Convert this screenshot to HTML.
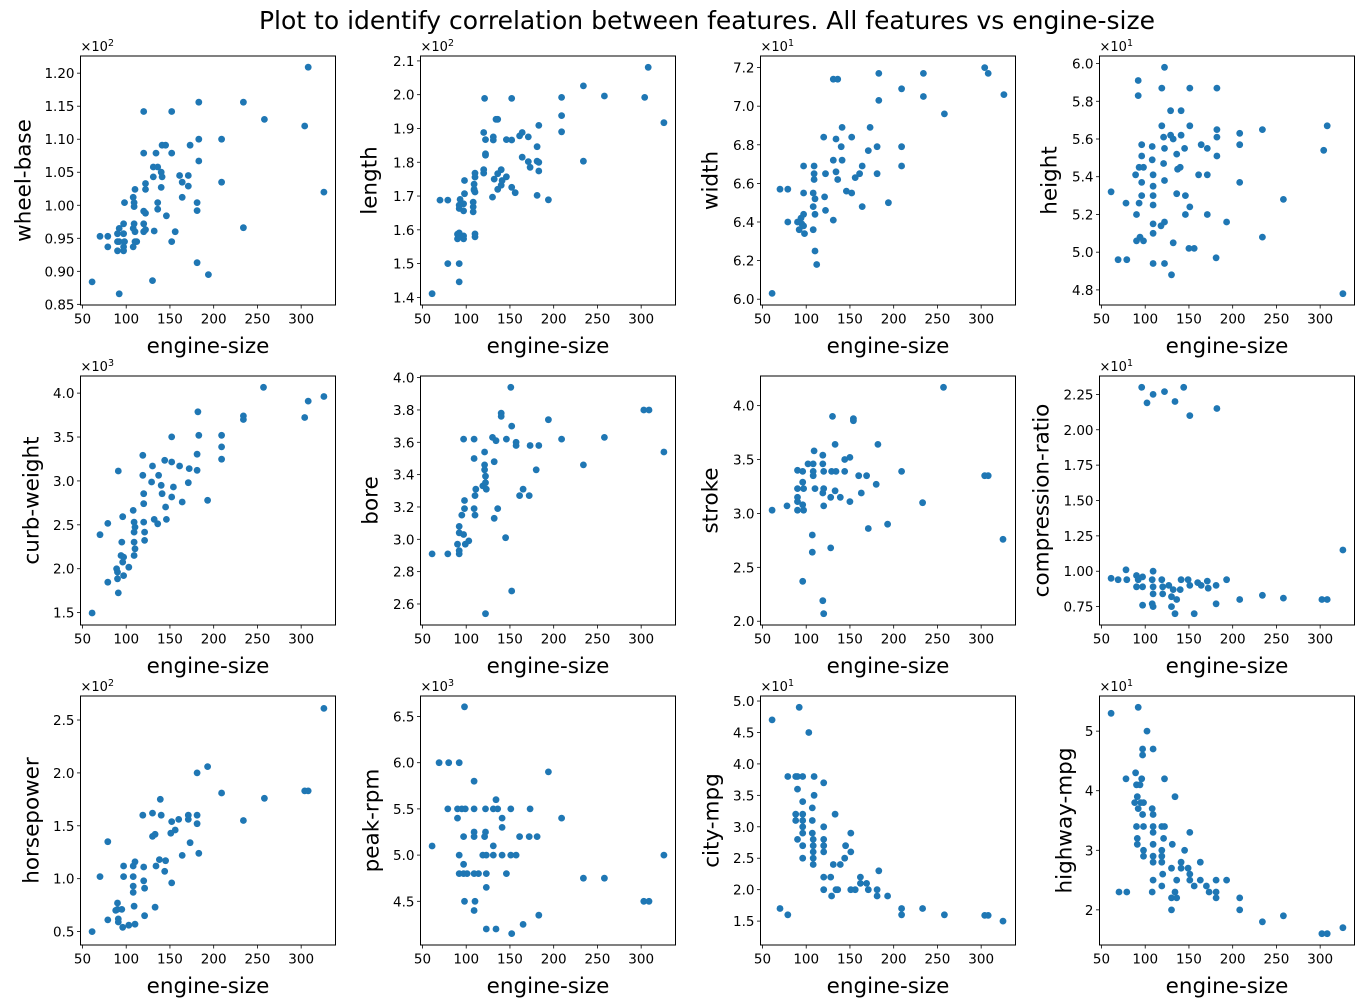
<!DOCTYPE html>
<html><head><meta charset="utf-8">
<style>
html,body{margin:0;padding:0;background:#fff;}
svg{display:block;font-family:"DejaVu Sans","Liberation Sans",sans-serif;}
</style></head>
<body>
<svg id="fig" width="1367" height="1006" viewBox="0 0 1367 1006" xmlns="http://www.w3.org/2000/svg">
<rect x="0" y="0" width="1367" height="1006" fill="#fff"/>
<text x="707" y="29" font-size="25" text-anchor="middle" fill="#000">Plot to identify correlation between features. All features vs engine-size</text>
</svg>
<script>
const xTicks = [50,100,150,200,250,300];
const xDomain = [47.75, 339.25];

const wheelBase = [[61,88.4],[70,95.3],[79,95.3],[79,93.7],[90,94.5],[90,93.1],[92,96.5],[92,94.5],[92,86.6],[97,93.7],[97,95.7],[97,97.2],[97,93.1],[98,94.5],[98,100.4],[90,95.7],[108,93.7],[108,101.2],[108,96.5],[109,97.2],[109,100.4],[109,99.8],[110,96.0],[110,102.4],[110,94.5],[112,94.5],[120,114.2],[120,107.9],[120,99.1],[120,97.2],[120,96.0],[122,103.3],[122,102.4],[122,98.8],[122,96.3],[130,88.6],[131,104.3],[131,105.8],[132,96.1],[134,107.9],[136,105.8],[136,100.4],[136,99.4],[140,105.0],[140,102.7],[141,104.3],[141,109.1],[145,109.1],[146,98.4],[152,114.2],[152,107.9],[152,94.5],[156,96.0],[161,104.5],[164,103.5],[164,101.2],[171,104.5],[171,102.9],[173,109.1],[181,100.4],[181,99.2],[181,91.3],[183,115.6],[183,110.0],[183,106.7],[194,89.5],[209,110.0],[209,103.5],[234,115.6],[234,96.6],[258,113.0],[304,112.0],[308,120.9],[326,102.0]];
const lengthData = [[61,141.1],[70,168.8],[79,168.8],[79,150],[92,150],[92,144.6],[90,157.3],[90,158.7],[92,157.9],[92,159.1],[97,157.3],[97,158.2],[97,165.6],[97,167.7],[92,166.3],[92,167.3],[98,170.7],[98,174.6],[93,169],[108,165.3],[108,166.8],[108,168.2],[109,171.7],[109,172.0],[109,173.5],[110,175.6],[110,176.8],[110,157.9],[110,158.8],[110,171.2],[120,176.8],[120,177.8],[120,188.8],[121,198.9],[122,182.5],[122,186.7],[122,182.1],[130,169.7],[131,186.6],[131,187.5],[132,175.0],[134,192.7],[136,192.7],[136,176.6],[136,172.0],[140,177.8],[140,173.2],[141,174.6],[146,186.7],[146,175.7],[152,198.9],[152,186.6],[152,172.6],[156,171.0],[161,187.8],[164,188.8],[164,181.5],[171,187.5],[171,180.2],[173,178.5],[181,184.6],[181,180.3],[181,170.2],[183,190.9],[183,180.0],[183,177.4],[194,168.9],[209,199.2],[209,193.8],[209,189.0],[234,202.6],[234,180.3],[258,199.6],[304,199.2],[308,208.1],[326,191.7]];
const widthData = [[61,60.3],[70,65.7],[79,65.7],[79,64.0],[97,66.9],[97,65.5],[90,64.0],[92,63.6],[97,64.4],[97,63.8],[98,63.4],[94,64.2],[95,63.9],[109,66.9],[109,66.5],[109,66.2],[108,65.5],[110,65.2],[108,64.8],[110,64.4],[108,63.6],[110,62.5],[112,61.8],[120,68.4],[122,66.5],[121,65.3],[122,64.6],[131,64.1],[131,71.4],[136,71.4],[131,67.2],[134,68.3],[140,67.9],[134,66.6],[136,66.2],[141,67.2],[141,68.9],[146,65.6],[152,65.5],[152,68.4],[156,66.3],[161,66.5],[164,66.9],[164,64.8],[171,67.7],[173,68.9],[181,67.9],[181,66.5],[183,71.7],[183,70.3],[194,65.0],[209,70.9],[209,67.9],[209,66.9],[234,71.7],[234,70.5],[258,69.6],[304,72.0],[308,71.7],[326,70.6]];
const heightData = [[61,53.2],[69,49.6],[79,49.6],[78,52.6],[90,52.0],[89,54.1],[92,59.1],[92,58.3],[96,55.7],[96,55.1],[93,54.5],[98,54.5],[94,50.8],[90,50.6],[98,50.6],[96,53.7],[96,53.0],[93,52.6],[108,55.6],[108,54.9],[109,54.1],[109,53.5],[109,53.0],[109,52.5],[109,51.5],[109,51.0],[109,49.4],[119,58.7],[122,59.8],[119,56.7],[121,56.1],[122,55.5],[121,54.7],[122,53.8],[118,51.4],[122,51.6],[122,49.4],[129,57.5],[129,56.2],[132,56.0],[136,55.2],[137,54.4],[136,53.1],[132,50.5],[130,48.8],[141,57.5],[141,56.2],[145,55.5],[140,54.5],[146,53.0],[146,52.0],[151,56.7],[151,58.7],[151,52.4],[150,50.2],[156,50.2],[161,54.1],[164,55.7],[171,54.1],[171,55.5],[171,52.0],[181,49.7],[182,55.1],[182,56.1],[182,56.5],[182,58.7],[193,51.6],[208,56.3],[208,55.7],[208,53.7],[234,56.5],[234,50.8],[258,52.8],[304,55.4],[308,56.7],[326,47.8]];
const curbWeight = [[61,1496],[70,2387],[79,2516],[79,1846],[91,3113],[91,1725],[90,1961],[90,1885],[89,1999],[95,2303],[94,2151],[96,2075],[97,2132],[97,1922],[96,2592],[103,2017],[108,2664],[109,2531],[109,2417],[109,2303],[109,2151],[110,2474],[110,2227],[119,3292],[119,3064],[120,2855],[120,2741],[120,2531],[121,2417],[121,2322],[130,3170],[129,2988],[132,2562],[136,2512],[137,3064],[140,2950],[141,2855],[144,3235],[145,2703],[146,2562],[152,3501],[152,3216],[152,2817],[154,2931],[161,3170],[164,2760],[171,2980],[172,3140],[181,3304],[181,3121],[182,3787],[183,3520],[193,2779],[209,3520],[209,3387],[209,3247],[234,3741],[234,3699],[257,4066],[304,3722],[308,3909],[326,3962]];
const boreData = [[61,2.91],[79,2.91],[92,2.91],[92,2.93],[90,2.97],[92,3.04],[92,3.08],[97,3.03],[99,2.97],[103,2.99],[95,3.15],[98,3.24],[98,3.19],[97,3.62],[109,3.62],[109,3.50],[110,3.27],[111,3.31],[109,3.19],[110,3.15],[119,3.33],[121,3.46],[121,3.43],[121,3.54],[122,3.39],[123,3.31],[122,3.35],[122,2.54],[130,3.63],[132,3.48],[134,3.61],[132,3.13],[136,3.19],[140,3.78],[140,3.76],[145,3.01],[146,3.62],[151,3.94],[152,3.70],[152,2.68],[157,3.60],[157,3.58],[161,3.27],[165,3.31],[172,3.27],[173,3.58],[180,3.43],[183,3.58],[194,3.74],[209,3.62],[234,3.46],[258,3.63],[303,3.80],[309,3.80],[326,3.54]];
const strokeData = [[61,3.03],[78,3.07],[90,3.40],[96,3.39],[90,3.23],[90,3.15],[90,3.11],[90,3.03],[97,3.03],[96,3.08],[96,3.29],[97,3.23],[96,2.37],[102,3.46],[108,3.46],[108,3.39],[108,3.35],[109,3.58],[107,2.80],[107,2.64],[110,3.23],[119,3.54],[119,3.46],[120,3.39],[120,3.23],[119,3.19],[120,3.07],[119,2.19],[120,2.07],[128,3.15],[128,2.68],[130,3.90],[133,3.64],[129,3.39],[134,3.39],[133,3.21],[139,3.15],[144,3.39],[144,3.50],[150,3.52],[150,3.11],[154,3.88],[154,3.86],[160,3.35],[163,3.19],[169,3.35],[171,2.86],[180,3.27],[182,3.64],[193,2.90],[209,3.39],[233,3.10],[257,4.17],[304,3.35],[308,3.35],[325,2.76]];
const compressionRatio = [[61,9.5],[69,9.4],[78,10.1],[79,9.4],[90,9.7],[92,9.4],[90,8.9],[97,9.6],[97,8.9],[97,7.6],[96,23.0],[102,21.9],[108,9.4],[109,10.0],[109,8.9],[109,8.4],[108,7.7],[109,7.5],[109,22.5],[119,9.4],[120,8.9],[120,8.4],[122,22.7],[127,9.0],[130,7.5],[130,8.2],[132,8.7],[134,7.0],[134,22.0],[136,8.0],[140,8.7],[141,9.4],[144,23.0],[149,9.4],[151,21.0],[151,9.0],[156,7.0],[160,9.2],[164,9.0],[171,9.3],[172,8.8],[181,9.0],[182,21.5],[181,7.7],[193,9.4],[208,8.0],[234,8.3],[258,8.1],[302,8.0],[308,8.0],[326,11.5]];
const horsepower = [[61,50],[70,102],[79,135],[79,61],[90,77],[90,71],[91,62],[91,59],[88,70],[95,71],[96,54],[97,112],[97,102],[103,56],[108,112],[108,102],[110,116],[108,93],[108,87],[109,74],[110,57],[119,160],[120,111],[120,98],[121,91],[121,65],[130,162],[130,140],[133,142],[133,73],[134,112],[138,118],[139,175],[140,160],[144,107],[145,117],[151,143],[152,154],[152,96],[156,146],[160,156],[164,122],[171,160],[171,156],[173,134],[181,200],[181,160],[181,152],[183,124],[193,206],[209,181],[234,155],[258,176],[304,183],[308,183],[326,261]];
const peakRpm = [[61,5098],[69,6000],[80,6000],[92,6000],[98,6605],[79,5500],[90,5500],[95,5500],[99,5500],[90,5400],[97,5200],[92,5000],[97,4900],[92,4800],[97,4800],[101,4800],[98,4500],[109,5800],[109,5500],[109,5250],[109,5200],[109,4800],[110,4500],[109,4400],[114,4800],[122,5500],[122,5250],[121,5200],[119,5000],[123,5000],[123,4800],[123,4650],[123,4200],[131,5100],[131,5000],[134,5600],[131,5500],[136,5500],[134,4200],[141,5400],[141,5300],[141,5000],[146,4800],[151,5500],[151,5000],[157,5000],[152,4150],[161,5200],[165,4250],[172,5200],[173,5500],[181,5200],[183,4350],[194,5900],[209,5400],[234,4750],[258,4750],[303,4500],[309,4500],[326,5000]];
const cityMpg = [[61,47],[92,49],[103,45],[79,38],[88,38],[90,38],[96,38],[109,38],[90,36],[96,34],[107,33],[120,37],[109,35],[88,32],[88,31],[96,32],[96,31],[96,30],[96,29],[90,28],[96,27],[96,25],[107,31],[107,29],[108,28],[108,27],[108,26],[108,25],[108,24],[120,28],[120,27],[120,26],[120,30],[133,32],[120,22],[120,20],[128,22],[131,24],[129,19],[134,20],[136,20],[139,24],[144,25],[145,27],[151,29],[151,26],[151,20],[156,20],[162,22],[162,21],[169,21],[171,20],[181,20],[181,19],[183,23],[193,19],[209,17],[209,16],[233,17],[258,16],[304,15.9],[308,15.9],[325,15],[70,17],[79,16]];
const highwayMpg = [[61,53],[92,54],[102,50],[97,47],[97,46],[109,47],[78,42],[89,43],[90,41],[94,41],[96,42],[122,42],[134,39],[91,39],[88,38],[95,38],[98,38],[92,37],[97,36],[108,37],[109,36],[90,34],[98,34],[109,34],[109,33],[109,31],[109,29],[109,28],[91,32],[91,31],[98,30],[98,29],[119,34],[122,34],[121,32],[119,30],[119,28],[119,29],[109,25],[108,23],[120,26],[119,24],[130,27],[131,31],[130,22],[130,20],[134,23],[136,22],[136,25],[141,28],[141,27],[145,30],[149,27],[151,33],[151,26],[151,25],[156,24],[163,28],[163,25],[170,24],[173,23],[181,25],[181,23],[181,22],[193,25],[208,22],[208,20],[234,18],[258,19],[302,16],[308,16],[326,17],[70,23],[79,23]];

const wheelBaseTicks = ["0.85","0.90","0.95","1.00","1.05","1.10","1.15","1.20"];
const lengthTicks = ["1.4","1.5","1.6","1.7","1.8","1.9","2.0","2.1"];
const widthTicks = ["6.0","6.2","6.4","6.6","6.8","7.0","7.2"];
const heightTicks = ["4.8","5.0","5.2","5.4","5.6","5.8","6.0"];
const curbTicks = ["1.5","2.0","2.5","3.0","3.5","4.0"];
const boreTicks = ["2.6","2.8","3.0","3.2","3.4","3.6","3.8","4.0"];
const strokeTicks = ["2.0","2.5","3.0","3.5","4.0"];
const compTicks = ["0.75","1.00","1.25","1.50","1.75","2.00","2.25"];
const hpTicks = ["0.5","1.0","1.5","2.0","2.5"];
const rpmTicks = ["4.5","5.0","5.5","6.0","6.5"];
const cityTicks = ["1.5","2.0","2.5","3.0","3.5","4.0","4.5","5.0"];
const hwTicks = ["2","3","4","5"];

const panels = [
 {name:"wheel-base", data:wheelBase, ticks:wheelBaseTicks, scale:100, exp:"2", dom:[84.9,122.6], lab:58},
 {name:"length", data:lengthData, ticks:lengthTicks, scale:100, exp:"2", dom:[137.75,211.45], lab:52},
 {name:"width", data:widthData, ticks:widthTicks, scale:10, exp:"1", dom:[59.7,72.6], lab:51},
 {name:"height", data:heightData, ticks:heightTicks, scale:10, exp:"1", dom:[47.2,60.4], lab:51},
 {name:"curb-weight", data:curbWeight, ticks:curbTicks, scale:1000, exp:"3", dom:[1359,4195], lab:50},
 {name:"bore", data:boreData, ticks:boreTicks, scale:1, exp:null, dom:[2.47,4.01], lab:51},
 {name:"stroke", data:strokeData, ticks:strokeTicks, scale:1, exp:null, dom:[1.965,4.275], lab:51},
 {name:"compression-ratio", data:compressionRatio, ticks:compTicks, scale:10, exp:"1", dom:[6.2,23.8], lab:59},
 {name:"horsepower", data:horsepower, ticks:hpTicks, scale:100, exp:"2", dom:[37.3,272.7], lab:50},
 {name:"peak-rpm", data:peakRpm, ticks:rpmTicks, scale:1000, exp:"3", dom:[4027,6722], lab:50},
 {name:"city-mpg", data:cityMpg, ticks:cityTicks, scale:10, exp:"1", dom:[11.2,50.8], lab:50},
 {name:"highway-mpg", data:highwayMpg, ticks:hwTicks, scale:10, exp:"1", dom:[14.1,55.9], lab:36}
];

const NS = "http://www.w3.org/2000/svg";
const svg = document.getElementById('fig');
const colX = [80.5, 420.5, 760.5, 1099.5];
const rowY = [56, 376, 696];
const W = 255, H = 249;

function mk(tag, attrs, parent, text){
  const e = document.createElementNS(NS, tag);
  for (const k in attrs) e.setAttribute(k, attrs[k]);
  if (text !== undefined) e.textContent = text;
  parent.appendChild(e);
  return e;
}

panels.forEach((p, i) => {
  const L = colX[i % 4], T = rowY[Math.floor(i / 4)];
  const xs = v => L + (v - xDomain[0]) / (xDomain[1] - xDomain[0]) * W;
  const ys = v => T + H - (v - p.dom[0]) / (p.dom[1] - p.dom[0]) * H;
  const g = mk('g', {}, svg);
  
  

  const pts = mk('g', {fill:'#1f77b4'}, g);
  
  
  p.data.forEach(d => {
    const c = mk('circle', {cx:xs(d[0]).toFixed(1), cy:ys(d[1]).toFixed(1), r:3.4}, pts);
    
    
  });

  const frame = mk('rect', {x:L, y:T, width:W, height:H, fill:'none', stroke:'#000', 'stroke-width':1}, g);
  
  

  const xa = mk('g', {}, g);
  
  
  xTicks.forEach(t => {
    const x = xs(t);
    mk('line', {x1:x, x2:x, y1:T+H, y2:T+H+3.5, stroke:'#000', 'stroke-width':0.8}, xa);
    const lb = mk('text', {x:x, y:T+H+18.5, 'font-size':13.5, 'text-anchor':'middle', fill:'#000'}, xa, String(t));
    
    
  });
  const xl = mk('text', {x:L+W/2, y:T+H+48, 'font-size':21.5, 'text-anchor':'middle', fill:'#000'}, g, 'engine-size');
  
  

  const ya = mk('g', {}, g);
  
  
  p.ticks.forEach(t => {
    const y = ys(parseFloat(t) * p.scale);
    mk('line', {x1:L-3.5, x2:L, y1:y, y2:y, stroke:'#000', 'stroke-width':0.8}, ya);
    const lb = mk('text', {x:L-6, y:y+5, 'font-size':13.5, 'text-anchor':'end', fill:'#000'}, ya, t);
    
    
  });
  const yx = L - p.lab + 8, yy = T + H/2;
  const yl = mk('text', {x:yx, y:yy, 'font-size':21.5, 'text-anchor':'middle', fill:'#000', transform:'rotate(-90 '+yx+' '+yy+')'}, g, p.name);
  
  

  if (p.exp) {
    const m = mk('text', {x:L, y:T-5, 'font-size':13, fill:'#000'}, g);
    
    
    mk('tspan', {}, m, '\u00d710');
    mk('tspan', {dy:-5, 'font-size':9.5}, m, p.exp);
  }
});
</script>
</body></html>
